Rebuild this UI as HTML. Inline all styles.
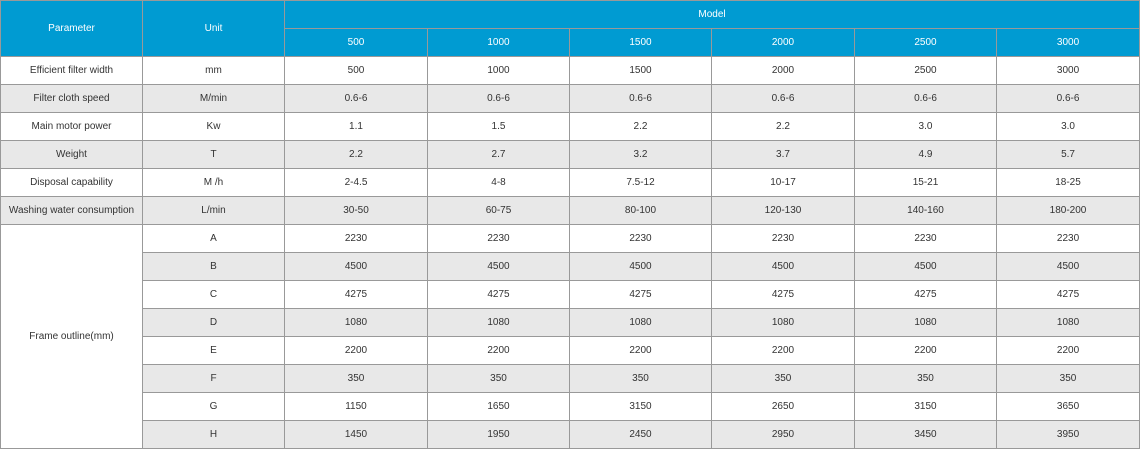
<!DOCTYPE html>
<html><head><meta charset="utf-8"><style>
html,body{margin:0;padding:0;background:#fff;width:1140px;height:449px;overflow:hidden}
table{border-collapse:collapse;table-layout:fixed;width:1139px;font-family:"Liberation Sans",Arial,sans-serif;font-size:10px;color:#333}
td,th{border:1px solid #999;text-align:center;vertical-align:middle;padding:0;height:27px;font-weight:normal}
th{background:#009bd2;color:#fff}
tr.g td{background:#e8e8e8}
td.w{background:#fff!important}
</style></head><body>
<table>
<colgroup><col style="width:142px"><col style="width:142px"><col style="width:143px"><col style="width:142px"><col style="width:142px"><col style="width:143px"><col style="width:142px"><col style="width:143px"></colgroup>
<tr><th rowspan="2">Parameter</th><th rowspan="2">Unit</th><th colspan="6">Model</th></tr>
<tr><th>500</th><th>1000</th><th>1500</th><th>2000</th><th>2500</th><th>3000</th></tr>
<tr><td>Efficient filter width</td><td>mm</td><td>500</td><td>1000</td><td>1500</td><td>2000</td><td>2500</td><td>3000</td></tr>
<tr class="g"><td>Filter cloth speed</td><td>M/min</td><td>0.6-6</td><td>0.6-6</td><td>0.6-6</td><td>0.6-6</td><td>0.6-6</td><td>0.6-6</td></tr>
<tr><td>Main motor power</td><td>Kw</td><td>1.1</td><td>1.5</td><td>2.2</td><td>2.2</td><td>3.0</td><td>3.0</td></tr>
<tr class="g"><td>Weight</td><td>T</td><td>2.2</td><td>2.7</td><td>3.2</td><td>3.7</td><td>4.9</td><td>5.7</td></tr>
<tr><td>Disposal capability</td><td>M /h</td><td>2-4.5</td><td>4-8</td><td>7.5-12</td><td>10-17</td><td>15-21</td><td>18-25</td></tr>
<tr class="g"><td>Washing water consumption</td><td>L/min</td><td>30-50</td><td>60-75</td><td>80-100</td><td>120-130</td><td>140-160</td><td>180-200</td></tr>
<tr><td rowspan="8" class="w">Frame outline(mm)</td><td>A</td><td>2230</td><td>2230</td><td>2230</td><td>2230</td><td>2230</td><td>2230</td></tr>
<tr class="g"><td>B</td><td>4500</td><td>4500</td><td>4500</td><td>4500</td><td>4500</td><td>4500</td></tr>
<tr><td>C</td><td>4275</td><td>4275</td><td>4275</td><td>4275</td><td>4275</td><td>4275</td></tr>
<tr class="g"><td>D</td><td>1080</td><td>1080</td><td>1080</td><td>1080</td><td>1080</td><td>1080</td></tr>
<tr><td>E</td><td>2200</td><td>2200</td><td>2200</td><td>2200</td><td>2200</td><td>2200</td></tr>
<tr class="g"><td>F</td><td>350</td><td>350</td><td>350</td><td>350</td><td>350</td><td>350</td></tr>
<tr><td>G</td><td>1150</td><td>1650</td><td>3150</td><td>2650</td><td>3150</td><td>3650</td></tr>
<tr class="g"><td>H</td><td>1450</td><td>1950</td><td>2450</td><td>2950</td><td>3450</td><td>3950</td></tr>
</table>
</body></html>
